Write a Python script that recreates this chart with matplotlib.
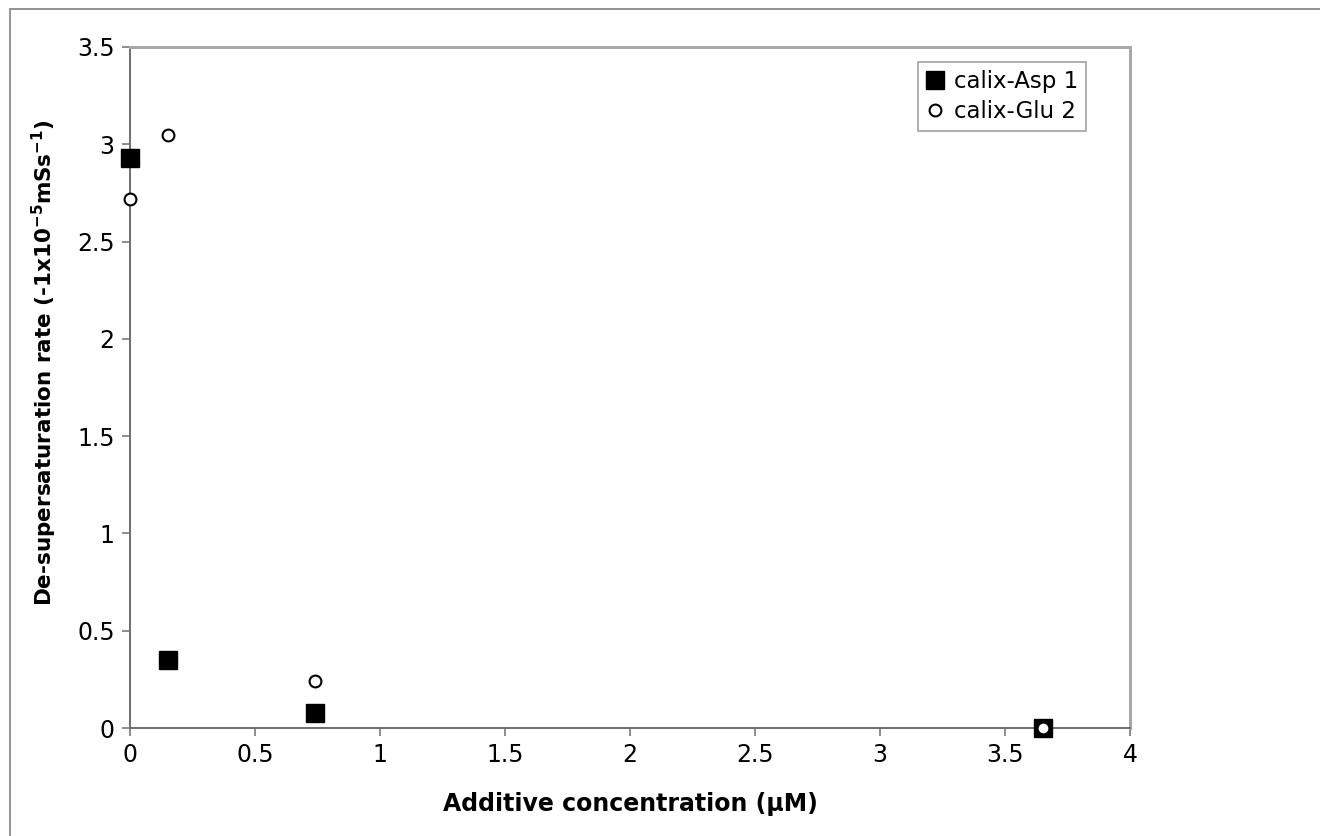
#!/usr/bin/env python3
"""De-supersaturation rate versus additive concentration (calix-Asp / calix-Glu)."""
import matplotlib
matplotlib.use("Agg")
import matplotlib.pyplot as plt
from matplotlib.patches import Rectangle

# data
asp_conc = [0.0, 0.15, 0.74, 3.65]
asp_rate = [2.93, 0.35, 0.075, 0.0]
glu_conc = [0.0, 0.15, 0.74, 3.65]
glu_rate = [2.72, 3.05, 0.24, 0.0]

W, H = 1320, 836
fig = plt.figure(figsize=(W / 100, H / 100), dpi=100)
ax = fig.add_axes([130 / W, 1 - 728 / H, 1000 / W, (728 - 47) / H])

# outer frame (cropped at right/bottom in the original)
fig.patches.append(Rectangle((10 / W, -0.05), 1.2, 1 - 9 / H + 0.05,
                             transform=fig.transFigure, fill=False,
                             edgecolor="#8a8a8a", lw=1.3))

ax.plot(asp_conc, asp_rate, ls="", marker="s", ms=13, mfc="black", mec="black",
        label="calix-Asp 1", clip_on=False, zorder=3)
ax.plot(glu_conc, glu_rate, ls="", marker="o", ms=8.5, mfc="white", mec="black",
        mew=1.5, label="calix-Glu 2", clip_on=False, zorder=4)

ax.set_xlim(0, 4)
ax.set_ylim(0, 3.5)
ax.set_xticks([0, 0.5, 1, 1.5, 2, 2.5, 3, 3.5, 4])
ax.set_xticklabels(["0", "0.5", "1", "1.5", "2", "2.5", "3", "3.5", "4"])
ax.set_yticks([0, 0.5, 1, 1.5, 2, 2.5, 3, 3.5])
ax.set_yticklabels(["0", "0.5", "1", "1.5", "2", "2.5", "3", "3.5"])

for s in ("left", "bottom"):
    ax.spines[s].set_color("#6e6e6e")
    ax.spines[s].set_linewidth(1.4)
for s in ("top", "right"):
    ax.spines[s].set_color("#a8a8a8")
    ax.spines[s].set_linewidth(2.2)
ax.tick_params(direction="out", length=6, width=1.2, color="#7a7a7a",
               labelsize=17, pad=5)

ax.set_xlabel("Additive concentration (\u03bcM)", fontsize=17, fontweight="bold",
              labelpad=18)
ax.set_ylabel("De-supersaturation rate (-1x10$^{\\mathbf{-5}}$mSs$^{\\mathbf{-1}}$)",
              fontsize=15.5, fontweight="bold")
ax.yaxis.set_label_coords(-0.071, 0.537)

leg = ax.legend(loc="upper right", bbox_to_anchor=(0.956, 0.978), fontsize=16.5,
                frameon=True, fancybox=False, handlelength=0.8, handletextpad=0.4,
                borderpad=0.35, labelspacing=0.3, borderaxespad=0)
leg.get_frame().set_edgecolor("#8a8a8a")
leg.get_frame().set_linewidth(1.2)

fig.savefig("out.png", dpi=100)
